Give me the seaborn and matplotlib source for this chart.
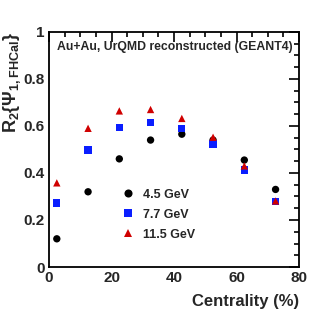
import matplotlib
matplotlib.use("Agg")
import matplotlib.pyplot as plt
from matplotlib.ticker import MultipleLocator
import pandas as pd
import seaborn as sns

# centrality bin centres (%)
centrality = [2.5, 12.5, 22.5, 32.5, 42.5, 52.5, 62.5, 72.5]
r2_45 = [0.12, 0.32, 0.46, 0.54, 0.565, 0.54, 0.455, 0.33]
r2_77 = [0.272, 0.497, 0.593, 0.614, 0.59, 0.523, 0.413, 0.279]
r2_115 = [0.358, 0.59, 0.664, 0.670, 0.632, 0.552, 0.430, 0.281]
energies = ["4.5 GeV", "7.7 GeV", "11.5 GeV"]

df = pd.concat([
    pd.DataFrame({"cent": centrality, "r2": vals, "energy": e})
    for e, vals in zip(energies, [r2_45, r2_77, r2_115])
])

sns.set_theme(style="white")
plt.rcParams["font.family"] = ["Liberation Sans", "DejaVu Sans"]
plt.rcParams["font.weight"] = "bold"
plt.rcParams["mathtext.default"] = "regular"

fig = plt.figure(figsize=(3.32, 3.16), dpi=100)
ax = fig.add_axes([0.1476, 0.155, 0.753, 0.744])

palette = {"4.5 GeV": "black", "7.7 GeV": "#0a1eff", "11.5 GeV": "#d00000"}
markers = {"4.5 GeV": "o", "7.7 GeV": "s", "11.5 GeV": "^"}
sns.scatterplot(df, x="cent", y="r2", hue="energy", style="energy",
                palette=palette, markers=markers, s=28, linewidth=0,
                ax=ax, zorder=3)

ax.set_xlim(0, 80)
ax.set_ylim(0, 1)
ax.xaxis.set_major_locator(MultipleLocator(20))
ax.xaxis.set_minor_locator(MultipleLocator(5))
ax.yaxis.set_major_locator(MultipleLocator(0.2))
ax.yaxis.set_minor_locator(MultipleLocator(0.05))
ax.yaxis.set_major_formatter(plt.FuncFormatter(lambda v, p: "%g" % round(v, 2)))
ax.tick_params(which="both", direction="in", top=True, right=True,
               labelsize=11, width=1.2, color="black", pad=3)
ax.tick_params(which="major", length=7)
ax.tick_params(which="minor", length=3.5)
for sp in ax.spines.values():
    sp.set_color("black")
    sp.set_linewidth(1.3)

ax.set_xlabel("Centrality (%)", fontsize=12, fontweight="bold", loc="right")
ax.xaxis.set_label_coords(1.0, -0.115)
ax.set_ylabel(r"R$_2${$\Psi_{1,FHCal}$}", fontsize=13, fontweight="bold", loc="top")
ax.yaxis.set_label_coords(-0.105, 1.0)

ax.text(0.975, 0.935, "Au+Au, UrQMD reconstructed (GEANT4)", transform=ax.transAxes,
        ha="right", va="center", fontsize=8.8, fontweight="bold")

leg = ax.legend(loc="upper left", bbox_to_anchor=(0.27, 0.355), frameon=False,
                fontsize=9, handletextpad=0.7, handlelength=1.0,
                labelspacing=0.65, borderaxespad=0, markerscale=1.1)
for t in leg.get_texts():
    t.set_fontweight("bold")

fig.savefig("out.png", dpi=100)
